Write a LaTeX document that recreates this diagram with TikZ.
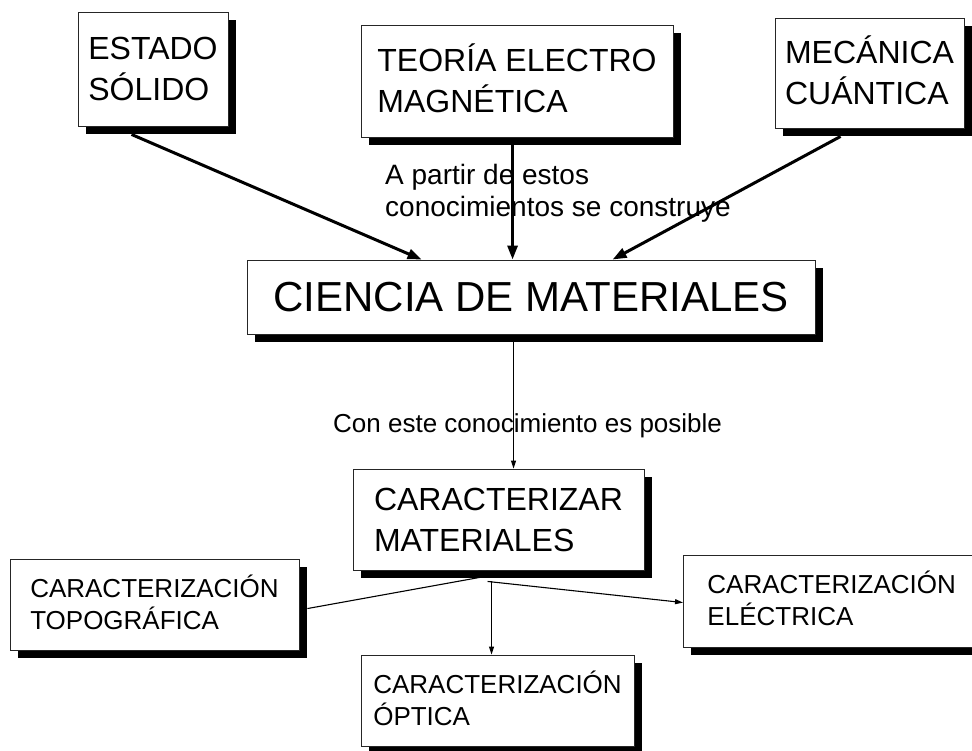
\documentclass[tikz,border=0pt]{standalone}
\usepackage{amsmath}
\usepackage{fontspec}
\setmainfont{Liberation Sans}
\usetikzlibrary{shadows,calc,arrows.meta}
\newcommand\capline[1]{\smash[t]{#1}\vphantom{E}}
\begin{document}
\begin{tikzpicture}[x=1pt,y=-1pt,
  box/.style={draw=black!85, line width=0.9pt, fill=white, align=left, inner sep=0pt,
     drop shadow={shadow xshift=8pt, shadow yshift=-8pt, fill=black, opacity=1}},
  bigtxt/.style={font=\fontsize{32}{41}\selectfont},
  hugetxt/.style={font=\fontsize{42}{50}\selectfont},
  smalltxt/.style={font=\fontsize{26}{32}\selectfont},
  thickarrow/.style={line width=3pt, -{Triangle[length=14pt,width=10pt]}},
  thinarrow/.style={line width=1.1pt, -{Triangle[length=8pt,width=5pt]}},
  thinline/.style={line width=1.1pt},
  lbl/.style={align=left, inner sep=0pt, anchor=base west},
]
\useasboundingbox (0,0) rectangle (972,751);
\clip (0,0) rectangle (972,751);
% boxes
\node[box,bigtxt,minimum width=150pt,minimum height=114pt] (es) at (153,69) {ESTADO\\SÓLIDO};
\node[box,bigtxt,minimum width=312pt,minimum height=112pt] (te) at (517,81) {\capline{TEORÍA ELECTRO}\\MAGNÉTICA};
\node[box,bigtxt,minimum width=189pt,minimum height=110pt] (mc) at (869.5,73) {\capline{MECÁNICA}\\CUÁNTICA};
\node[box,hugetxt,minimum width=568pt,minimum height=74pt] (cm) at (531,297) {CIENCIA DE MATERIALES};
\node[box,bigtxt,minimum width=291pt,minimum height=101pt] (cr) at (498.5,519.5) {CARACTERIZAR\\MATERIALES};
\node[box,smalltxt,minimum width=289pt,minimum height=91pt] (tp) at (154.5,604.5) {\capline{CARACTERIZACIÓN}\\TOPOGRÁFICA};
\node[box,smalltxt,text width=300pt,inner xsep=24pt,minimum height=92pt,anchor=west] (el) at (683,601) {\capline{CARACTERIZACIÓN}\\ELÉCTRICA};
\node[box,smalltxt,minimum width=273pt,minimum height=91pt] (op) at (497.5,700.5) {\capline{CARACTERIZACIÓN}\\ÓPTICA};
% labels
\node[lbl,font=\fontsize{28}{32}\selectfont] (l1) at (385,217) {A partir de estos\\conocimientos se construye};
\node[lbl,font=\fontsize{26}{32}\selectfont] (l2) at (333,432) {Con este conocimiento es posible};
% top connectors
\draw[thickarrow] ($(es.south west)+(54,8)$) -- ($(cm.north west)+(175,0)$);
\draw[thickarrow] ($(te.south west)+(152,8)$) -- ($(cm.north west)+(266,0)$);
\draw[thickarrow] ($(mc.south west)+(66,8)$) -- ($(cm.north west)+(366,0)$);
% middle connector
\draw[thinarrow] ($(cm.south west)+(267,8)$) -- ($(cr.north west)+(161,0)$);
% bottom connectors
\draw[thinline] ($(cr.south west)+(127,7)$) -- ($(tp.north east)+(8,50)$);
\draw[thinarrow] ($(cr.south west)+(135,11)$) -- ($(el.north west)+(0,48)$);
\draw[thinarrow] ($(cr.south west)+(139,11)$) -- ($(op.north west)+(131,0)$);
\end{tikzpicture}
\end{document}
